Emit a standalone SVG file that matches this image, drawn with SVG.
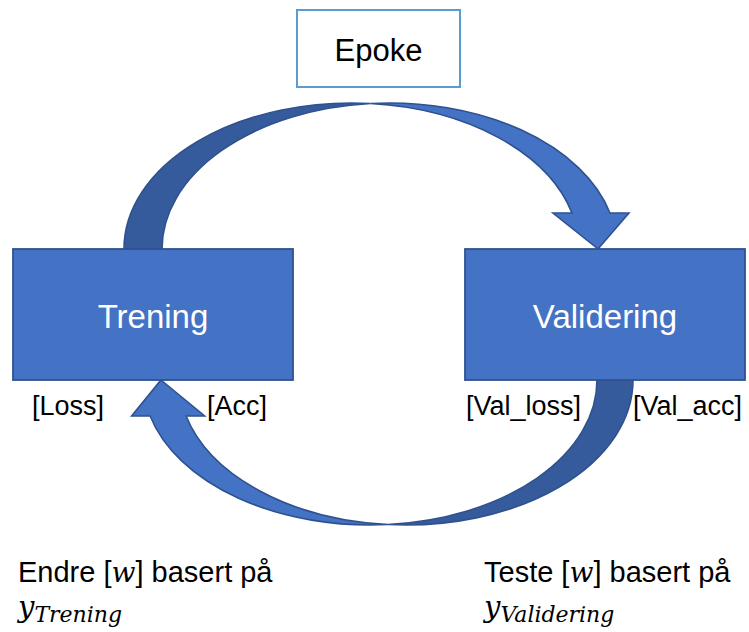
<svg xmlns="http://www.w3.org/2000/svg" width="749" height="632" viewBox="0 0 749 632">
  <style>
    .box { fill: #4472C4; stroke: #2F528F; stroke-width: 1.8; }
    .epoke { fill: #FFFFFF; stroke: #5B9BD5; stroke-width: 2; }
    .front { fill: #4472C4; stroke: #2F528F; stroke-width: 1.6; stroke-linejoin: miter; }
    .back { fill: #365B9D; stroke: #2F528F; stroke-width: 1.6; }
    .title { font-family: "Liberation Sans", Arial, sans-serif; fill: #000000; }
    .inbox { font-family: "Liberation Sans", Arial, sans-serif; fill: #FFFFFF; font-size: 33px; text-anchor: middle; }
    .metric { font-family: "Liberation Sans", Arial, sans-serif; fill: #000000; font-size: 27px; }
    .note { font-family: "Liberation Sans", Arial, sans-serif; fill: #000000; font-size: 29px; }
    .math { font-family: "DejaVu Serif", "Liberation Serif", serif; font-style: italic; fill: #000000; }
  </style>
  <rect width="749" height="632" fill="#FFFFFF"/>

  <!-- curved arrows: Trening -> Validering (over the top) and back (underneath) -->
  <g id="connectors">
    <g id="arrow-train-to-val">
      <path class="front" d="M598,249 L552.97,213 L571.97,213 A227.5,146 0 0 0 370.5,103.51 A227.5,146 0 0 1 609.97,213 L628.97,213 Z"/>
      <path class="back" d="M370.5,103.51 A227.5,146 0 0 0 162,249 L124,249 A227.5,146 0 0 1 370.5,103.51 Z"/>
    </g>
    <g id="arrow-val-to-train">
      <path class="front" d="M161,380 L204.61,416 L186.11,416 A227,145 0 0 0 388,524.54 A227,145 0 0 1 150.11,416 L131.61,416 Z"/>
      <path class="back" d="M388,524.54 A227,145 0 0 0 597,380 L633,380 A227,145 0 0 1 388,524.54 Z"/>
    </g>
  </g>

  <g id="epoke">
    <rect class="epoke" x="297" y="10" width="163" height="77"/>
    <text class="title" x="378.5" y="61" font-size="31" text-anchor="middle">Epoke</text>
  </g>

  <g id="trening">
    <rect class="box" x="13" y="249" width="280" height="131"/>
    <text class="inbox" x="153" y="328">Trening</text>
  </g>

  <g id="validering">
    <rect class="box" x="465" y="249" width="280" height="131"/>
    <text class="inbox" x="605" y="328">Validering</text>
  </g>

  <g id="metrics">
    <text class="metric" x="32" y="415">[Loss]</text>
    <text class="metric" x="207" y="415">[Acc]</text>
    <text class="metric" x="466" y="415">[Val_loss]</text>
    <text class="metric" x="633" y="415">[Val_acc]</text>
  </g>

  <g id="note-trening">
    <text class="note" x="18" y="582">Endre [<tspan class="math" font-size="28">w</tspan>] basert på</text>
    <text class="math" x="18" y="617" font-size="29">y<tspan font-size="22" dy="5">Trening</tspan></text>
  </g>

  <g id="note-validering">
    <text class="note" x="484" y="582">Teste [<tspan class="math" font-size="28">w</tspan>] basert på</text>
    <text class="math" x="484" y="617" font-size="29">y<tspan font-size="22" dy="5">Validering</tspan></text>
  </g>
</svg>
